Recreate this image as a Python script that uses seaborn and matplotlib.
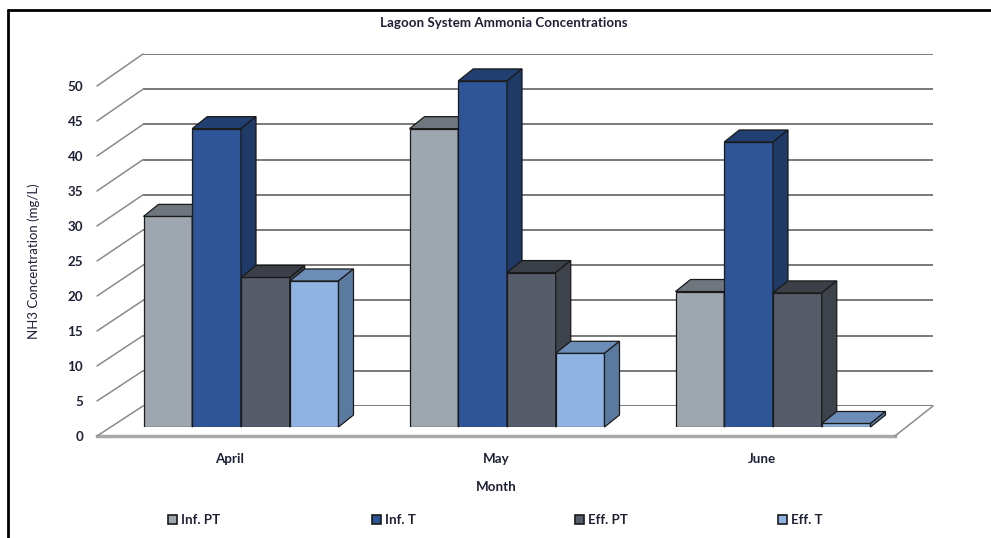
import numpy as np
import pandas as pd
import matplotlib
matplotlib.use("Agg")
import matplotlib.pyplot as plt
import seaborn as sns
from matplotlib.patches import Polygon, Patch, ConnectionPatch
from matplotlib.lines import Line2D
from matplotlib.transforms import IdentityTransform

# ---- data ----
months = ["April", "May", "June"]
series = ["Inf. PT", "Inf. T", "Eff. PT", "Eff. T"]
inf_pt = [30.0, 42.5, 19.3]
inf_t = [42.5, 49.3, 40.6]
eff_pt = [21.3, 22.0, 19.1]
eff_t = [20.8, 10.5, 0.5]
y_ticks = list(range(0, 55, 5))

title = "Lagoon System Ammonia Concentrations"
ylabel = "NH3 Concentration (mg/L)"
xlabel = "Month"

front_colors = ["#9EA6B0", "#2E5597", "#575C6A", "#8FB4E3"]
top_colors = ["#70767E", "#213F70", "#3B3F48", "#6C8DB8"]
side_colors = ["#5E636B", "#1F3A66", "#3E424B", "#5B7A9F"]

sns.set_theme(style="white")
plt.rcParams["font.family"] = ["Lato", "DejaVu Sans"]
text_color = "#1E2036"
fs = 9.6

df = pd.DataFrame({
    "Month": np.repeat(months, len(series)),
    "Series": series * len(months),
    "Value": [v for trio in zip(inf_pt, inf_t, eff_pt, eff_t) for v in trio],
})

W, H = 991, 538
fig = plt.figure(figsize=(W / 100, H / 100), dpi=100)
fig.patch.set_facecolor("white")

def rect(left, top_px, width, height):
    return [left / W, (H - top_px) / H, width / W, height / H]

# back wall axes (gridlines)
ax_back = fig.add_axes(rect(143, 406, 790, 352))
# front axes (tick labels, floor edge)
ax_front = fig.add_axes(rect(97, 436, 798, 350))
# bar axes (bar front faces at mid depth)
ax_bar = fig.add_axes(rect(108, 427, 798, 351))

for ax in (ax_back, ax_front, ax_bar):
    ax.set_facecolor("none")
    ax.set_xlim(-0.5, 2.5)
    ax.set_ylim(0, 50)
    for s in ax.spines.values():
        s.set_visible(False)

# back wall gridlines
ax_back.set_yticks(y_ticks)
ax_back.set_xticks([])
ax_back.tick_params(left=False, labelleft=False)
ax_back.grid(axis="y", color="#6E6E6E", lw=1.3)
ax_back.set_axisbelow(True)

# front axes ticks and labels
ax_front.set_yticks(y_ticks)
ax_front.set_yticklabels([str(t) for t in y_ticks])
ax_front.tick_params(axis="y", length=0, pad=10, labelsize=fs, labelcolor=text_color)
for lab in ax_front.get_yticklabels():
    lab.set_fontweight("bold")
ax_front.set_xticks(range(len(months)))
ax_front.set_xticklabels(months, fontweight="bold", fontsize=fs, color=text_color)
ax_front.tick_params(axis="x", which="major", length=0, pad=12)
ax_front.set_xticks([-0.5, 0.5, 1.5, 2.5], minor=True)
ax_front.tick_params(axis="x", which="minor", length=6, width=1.6, color="#222222", direction="inout")
ax_front.spines["bottom"].set_visible(True)
ax_front.spines["bottom"].set_color("#A8A8A8")
ax_front.spines["bottom"].set_linewidth(2.5)
ax_front.set_xlabel(xlabel, fontweight="bold", fontsize=fs, color=text_color, labelpad=12)
ax_front.set_ylabel(ylabel, fontsize=9.5, color=text_color)
ax_front.yaxis.set_label_coords(-0.071, 0.5)
ax_front.grid(False)

# diagonals connecting front axis to back wall
for v in y_ticks:
    cp = ConnectionPatch(xyA=(-0.5, v), coordsA=ax_front.transData,
                         xyB=(-0.5, v), coordsB=ax_back.transData,
                         color="#8A8A8A", lw=1.1)
    fig.add_artist(cp)
cp = ConnectionPatch(xyA=(2.5, 0), coordsA=ax_front.transData,
                     xyB=(2.5, 0), coordsB=ax_back.transData,
                     color="#8A8A8A", lw=1.1)
fig.add_artist(cp)

# bars
sns.barplot(data=df, x="Month", y="Value", hue="Series", order=months,
            hue_order=series, palette=front_colors, width=0.733,
            edgecolor="#1A1A1A", linewidth=0.9, saturation=1, ax=ax_bar,
            legend=False)
ax_bar.set_xlim(-0.5, 2.5)
ax_bar.set_ylim(0, 50)
ax_bar.set_xlabel("")
ax_bar.set_ylabel("")
ax_bar.set_xticks([])
ax_bar.set_yticks([])
ax_bar.grid(False)

dx, dy = 15.0, 12.0
bars = [p for p in ax_bar.patches if p.get_width() > 0]
color_to_idx = {}
for i, c in enumerate(front_colors):
    color_to_idx[matplotlib.colors.to_hex(c)] = i
bars_sorted = sorted(bars, key=lambda p: p.get_x())
fig.canvas.draw()
for k, p in enumerate(bars_sorted):
    idx = color_to_idx.get(matplotlib.colors.to_hex(p.get_facecolor()), 0)
    x0 = p.get_x()
    x1 = x0 + p.get_width()
    h = p.get_height()
    (X0, Y0), (X1, Y1) = ax_bar.transData.transform([(x0, 0), (x1, h)])
    base = 10 + 3 * k
    p.set_zorder(base)
    top = Polygon([(X0, Y1), (X1, Y1), (X1 + dx, Y1 + dy), (X0 + dx, Y1 + dy)],
                  closed=True, transform=IdentityTransform(), facecolor=top_colors[idx],
                  edgecolor="#1A1A1A", lw=0.9, zorder=base + 1, clip_on=False)
    side = Polygon([(X1, Y0), (X1, Y1), (X1 + dx, Y1 + dy), (X1 + dx, Y0 + dy)],
                   closed=True, transform=IdentityTransform(), facecolor=side_colors[idx],
                   edgecolor="#1A1A1A", lw=0.9, zorder=base + 2, clip_on=False)
    ax_bar.add_artist(top)
    ax_bar.add_artist(side)

# title
fig.text(504 / W, 1 - 23 / H, title, ha="center", va="center",
         fontsize=fs, fontweight="bold", color=text_color)

# legend entries
leg_x = [168, 372, 575, 778]
for i, name in enumerate(series):
    h = Patch(facecolor=front_colors[i], edgecolor="#1A1A1A", lw=1.2)
    lg = fig.legend(handles=[h], labels=[name], loc="center left",
                    bbox_to_anchor=(leg_x[i] / W, 1 - 520 / H), frameon=False,
                    handlelength=0.7, handleheight=0.7, handletextpad=0.25,
                    borderpad=0, borderaxespad=0,
                    prop={"weight": "bold", "size": fs})
    for t in lg.get_texts():
        t.set_color(text_color)

# outer frame (partially cropped in reference)
fig.add_artist(Line2D([8 / W, 1.0], [1 - 10 / H, 1 - 10 / H], color="black", lw=2.0))
fig.add_artist(Line2D([8 / W, 8 / W], [0.0, 1 - 10 / H], color="black", lw=2.0))

fig.savefig("out.png", dpi=100)
